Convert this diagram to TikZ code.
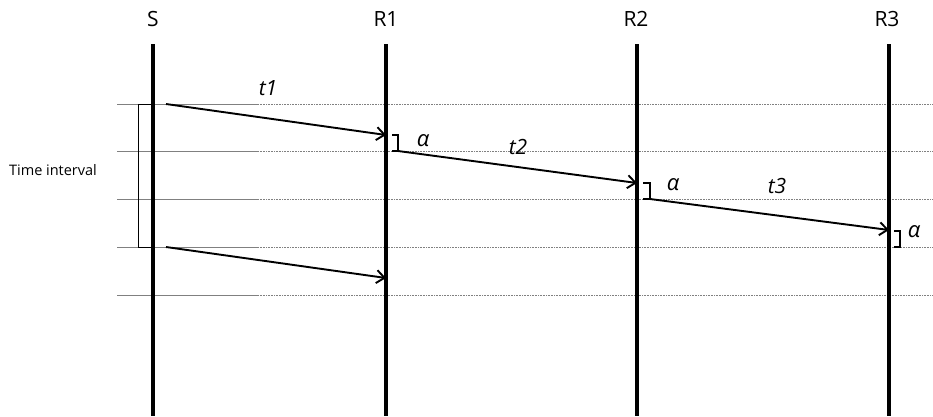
\documentclass[tikz,border=0pt]{standalone}
\usepackage{fontspec}
\setmainfont{Open Sans}
\usetikzlibrary{arrows.meta}
\begin{document}
\begin{tikzpicture}[x=1pt,y=-1pt,
  head/.style={font=\fontsize{21}{21}\selectfont, inner sep=0pt},
  life/.style={line width=3.2pt},
  msg/.style={line width=1.9pt, -{Straight Barb[length=8pt,width=13pt,line width=1.9pt]}},
  gsolid/.style={gray, line width=0.9pt},
  gdot/.style={gray, line width=0.9pt, dash pattern=on 0.8pt off 0.8pt},
  brk/.style={line width=1.6pt},
  tbrk/.style={line width=1pt},
  lab/.style={font=\itshape\fontsize{21}{21}\selectfont, inner sep=0pt},
  alab/.style={font=\itshape\fontsize{22}{22}\selectfont, inner sep=0pt}]
\useasboundingbox (0,0) rectangle (933,416);
% headers
\node[head] (S)  at (153,19) {S};
\node[head] (R1) at (386,19) {R1};
\node[head] (R2) at (636,19) {R2};
\node[head] (R3) at (887,19) {R3};
% lifelines
\coordinate (St) at (153,44);  \coordinate (Sb) at (153,416);
\coordinate (R1t) at (386,44); \coordinate (R1b) at (386,416);
\coordinate (R2t) at (637,44); \coordinate (R2b) at (637,416);
\coordinate (R3t) at (889,44); \coordinate (R3b) at (889,416);
% horizontal guide lines
\foreach \i/\y in {1/104,2/151,3/199,4/247,5/295}{
  \coordinate (h\i l) at (117,\y);
  \coordinate (h\i m) at (258,\y);
  \coordinate (h\i r) at (933,\y);
  \draw[gsolid] (h\i l) -- (h\i m);
  \draw[gdot] (h\i m) -- (h\i r);
}
\draw[life] (St) -- (Sb);
\draw[life] (R1t) -- (R1b);
\draw[life] (R2t) -- (R2b);
\draw[life] (R3t) -- (R3b);
% time interval bracket
\coordinate (ti1) at (153,104);
\coordinate (ti2) at (138,104);
\coordinate (ti3) at (138,247);
\coordinate (ti4) at (153,247);
\draw[tbrk] (ti1) -- (ti2) -- (ti3) -- (ti4);
\node[font=\fontsize{14.5}{14.5}\selectfont, inner sep=0pt] (TI) at (53,170) {Time interval};
% messages
\coordinate (m1s) at (166,104); \coordinate (m1e) at (386,135);
\coordinate (m2s) at (398,151); \coordinate (m2e) at (637,183);
\coordinate (m3s) at (650,199); \coordinate (m3e) at (889,230);
\coordinate (m4s) at (166,247); \coordinate (m4e) at (386,278);
\draw[msg] (m1s) -- (m1e);
\draw[msg] (m2s) -- (m2e);
\draw[msg] (m3s) -- (m3e);
\draw[msg] (m4s) -- (m4e);
% alpha brackets
\coordinate (b1a) at (392,135); \coordinate (b1b) at (398,135); \coordinate (b1c) at (398,151); \coordinate (b1d) at (392,151);
\coordinate (b2a) at (643,183); \coordinate (b2b) at (650,183); \coordinate (b2c) at (650,199); \coordinate (b2d) at (643,199);
\coordinate (b3a) at (894,231); \coordinate (b3b) at (900,231); \coordinate (b3c) at (900,247); \coordinate (b3d) at (894,247);
\draw[brk] (b1a) -- (b1b) -- (b1c) -- (b1d);
\draw[brk] (b2a) -- (b2b) -- (b2c) -- (b2d);
\draw[brk] (b3a) -- (b3b) -- (b3c) -- (b3d);
\node[alab] (a1) at (423,141) {α};
\node[alab] (a2) at (673,185) {α};
\node[alab] (a3) at (914,232) {α};
% time labels
\node[lab] (t1) at (268,88) {t1};
\node[lab] (t2) at (518,147) {t2};
\node[lab] (t3) at (777,186) {t3};
\end{tikzpicture}
\end{document}
